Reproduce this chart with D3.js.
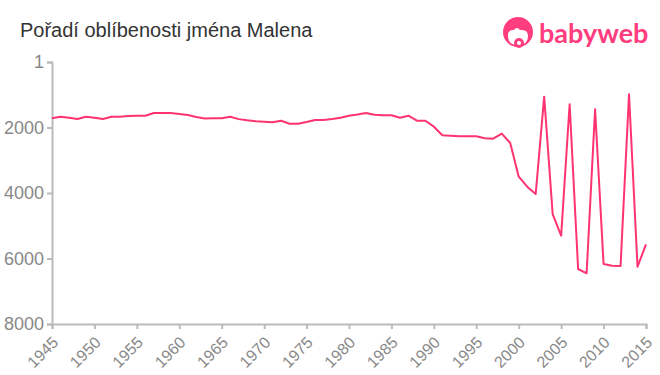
<!DOCTYPE html>
<html>
<head>
<meta charset="utf-8">
<script src="https://cdn.jsdelivr.net/npm/d3@7"></script>
<style>
  body { margin: 0; background: #fff; font-family: Arial, "Liberation Sans", sans-serif; }
  #chart { width: 660px; height: 375px; }
</style>
</head>
<body>
<div id="chart"></div>
<script>
// data
const years = d3.range(1945, 2016);
const ranks = [
  1720, 1671, 1702, 1741, 1671, 1702, 1741, 1671, 1671, 1650,
  1640, 1640, 1558, 1558, 1558, 1589, 1619, 1680, 1725, 1720,
  1720, 1671, 1745, 1781, 1811, 1824, 1842, 1793, 1885, 1885,
  1833, 1772, 1772, 1741, 1702, 1640, 1605, 1558, 1610, 1628,
  1628, 1702, 1640, 1793, 1793, 1976, 2239, 2251, 2270, 2270,
  2270, 2331, 2343, 2190, 2475, 3503, 3808, 4031, 1060, 4642,
  5304, 1292, 6321, 6452, 1445, 6168, 6220, 6229, 987, 6251,
  5567
];
const yTicks = [1, 2000, 4000, 6000, 8000];
const xTicks = d3.range(1945, 2016, 5);

const data = years.map((y, i) => ({ year: y, rank: ranks[i] }));

const svg = d3.select('#chart').append('svg')
  .attr('width', 660)
  .attr('height', 375);

const margin = { top: 62, right: 14, bottom: 51, left: 52 };
const width = 660 - margin.left - margin.right;
const height = 375 - margin.top - margin.bottom;

const x = d3.scaleLinear().domain([1945, 2015]).range([margin.left, margin.left + width]);
const y = d3.scaleLinear().domain([1, 8000]).range([margin.top, margin.top + height]);

// titulo
svg.append('text')
  .attr('x', 20)
  .attr('y', 37)
  .style('font-size', '20px')
  .style('fill', '#333')
  .text('Pořadí oblíbenosti jména Malena');

// logo
const logo = svg.append('g').attr('transform', 'translate(518,32)');
logo.append('circle').attr('r', 15).attr('fill', '#ff3d7f');
logo.append('path')
  .attr('d', 'M-10,4 Q-10,-3 -4,-2 Q-1,-6 2,-2 Q10,-3 10,4 Q10,13 0,13 Q-10,13 -10,4 Z')
  .attr('fill', '#fff');
logo.append('circle').attr('cx', 1).attr('cy', 11).attr('r', 5).attr('fill', '#ff3d7f');
logo.append('circle').attr('cx', 1).attr('cy', 11).attr('r', 2).attr('fill', '#fff');
svg.append('text')
  .attr('x', 539)
  .attr('y', 43)
  .style('font-size', '27px')
  .style('font-family', 'Lato, sans-serif')
  .style('font-weight', 'bold')
  .style('fill', '#ff3d7f')
  .text('babyweb');

// eixo Y
const yAxisG = svg.append('g')
  .attr('transform', `translate(${margin.left},0)`)
  .call(d3.axisLeft(y).tickValues(yTicks).tickSize(5).tickPadding(3).tickFormat(d3.format('d')));
yAxisG.select('.domain').style('stroke', '#bbb').style('stroke-width', 2);
yAxisG.selectAll('.tick line').style('stroke', '#bbb').style('stroke-width', 2);
yAxisG.selectAll('text')
  .style('font-size', '18px')
  .style('fill', '#888')
  .style('font-family', 'Arial, "Liberation Sans", sans-serif');

// eixo X
const xAxisG = svg.append('g')
  .attr('transform', `translate(0,${margin.top + height})`)
  .call(d3.axisBottom(x).tickValues(xTicks).tickSize(5).tickFormat(d3.format('d')));
xAxisG.select('.domain').style('stroke', '#bbb').style('stroke-width', 2);
xAxisG.selectAll('.tick line').style('stroke', '#bbb').style('stroke-width', 2);
xAxisG.selectAll('text')
  .style('font-size', '16px')
  .style('fill', '#888')
  .style('font-family', 'Arial, "Liberation Sans", sans-serif')
  .style('text-anchor', 'end')
  .attr('x', -9)
  .attr('y', 13)
  .attr('dy', '0.35em')
  .attr('transform', 'rotate(-45)');

// linha
const line = d3.line()
  .x(d => x(d.year))
  .y(d => y(d.rank));

svg.append('path')
  .datum(data)
  .attr('fill', 'none')
  .attr('stroke', '#ff3370')
  .attr('stroke-width', 2)
  .attr('stroke-linejoin', 'round')
  .attr('d', line);
</script>
</body>
</html>
